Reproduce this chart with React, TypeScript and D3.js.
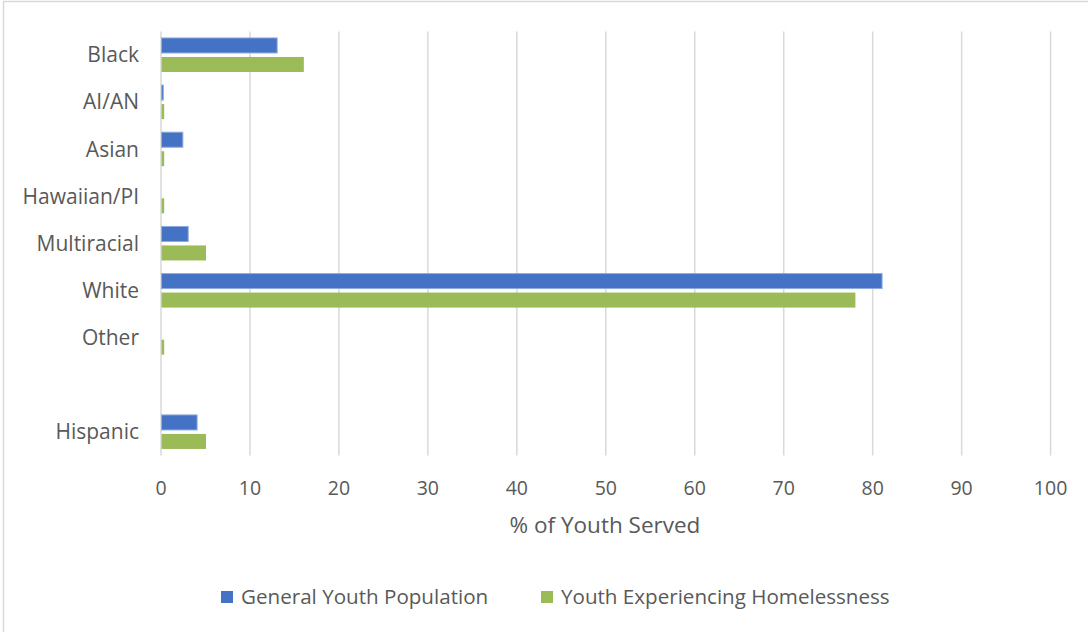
import React from "react";
import * as d3 from "d3";

const categories = ["Black", "AI/AN", "Asian", "Hawaiian/PI", "Multiracial", "White", "Other", "", "Hispanic"];
const generalYouth = [13, 0.2, 2.4, 0, 3, 81, 0, 0, 4];
const homelessYouth = [16, 0.3, 0.3, 0.3, 5, 78, 0.3, 0, 5];
const seriesNames = ["General Youth Population", "Youth Experiencing Homelessness"];
const seriesColors = ["#4472C4", "#9BBB59"];
const xTicks = [0, 10, 20, 30, 40, 50, 60, 70, 80, 90, 100];

const W = 1088;
const H = 632;
const FONT = "'Open Sans', sans-serif";
const TEXT = "#595959";

export default function App() {
  const x = d3.scaleLinear().domain([0, 100]).range([161, 1050.6]);
  const keys = categories.map((c, i) => `${i}:${c}`);
  const y = d3.scaleBand().domain(keys).range([31.4, 455.5]).paddingInner(0.278).paddingOuter(0.139);
  const ySub = d3.scaleBand().domain(["0", "1"]).range([0, y.bandwidth()]).paddingInner(0.21);
  const series = [generalYouth, homelessYouth];

  return (
    <div style={{ position: "absolute", left: 0, top: 0 }}>
      <svg width={W} height={H} style={{ display: "block", background: "#fff" }}>
        <line x1={3.5} x2={3.5} y1={1} y2={H} stroke="#d9d9d9" strokeWidth={1.5} />
        <line x1={3} x2={W} y1={1.5} y2={1.5} stroke="#d9d9d9" strokeWidth={1.5} />
        {xTicks.map((t) => (
          <g key={t}>
            <line x1={x(t)} x2={x(t)} y1={31.4} y2={455.5} stroke="#d9d9d9" strokeWidth={1.5} />
            <text x={x(t)} y={495} textAnchor="middle" fontFamily={FONT} fontSize={19.5} fill={TEXT}>
              {t}
            </text>
          </g>
        ))}
        {keys.map((k, i) => (
          <g key={k} transform={`translate(0,${y(k)})`}>
            {series.map((s, j) =>
              s[i] > 0 ? (
                <rect
                  key={j}
                  x={x(0) + 0.5}
                  y={ySub(String(j))}
                  width={x(s[i]) - x(0)}
                  height={ySub.bandwidth()}
                  fill={seriesColors[j]}
                  stroke={j === 0 ? "#8FAADC" : "none"}
                  strokeWidth={j === 0 ? 1 : 0}
                />
              ) : null
            )}
            <text
              x={139}
              y={y.bandwidth() / 2}
              dy="0.35em"
              textAnchor="end"
              fontFamily={FONT}
              fontSize={21}
              fill={TEXT}
            >
              {categories[i]}
            </text>
          </g>
        ))}
        <text x={605} y={533} textAnchor="middle" fontFamily={FONT} fontSize={22.5} fill={TEXT}>
          % of Youth Served
        </text>
        {seriesNames.map((n, j) => {
          const lx = j === 0 ? 221 : 541;
          return (
            <g key={n}>
              <rect x={lx} y={591} width={12} height={12} fill={seriesColors[j]} />
              <text x={lx + 20} y={604} fontFamily={FONT} fontSize={20.6} fill={TEXT}>
                {n}
              </text>
            </g>
          );
        })}
      </svg>
    </div>
  );
}
